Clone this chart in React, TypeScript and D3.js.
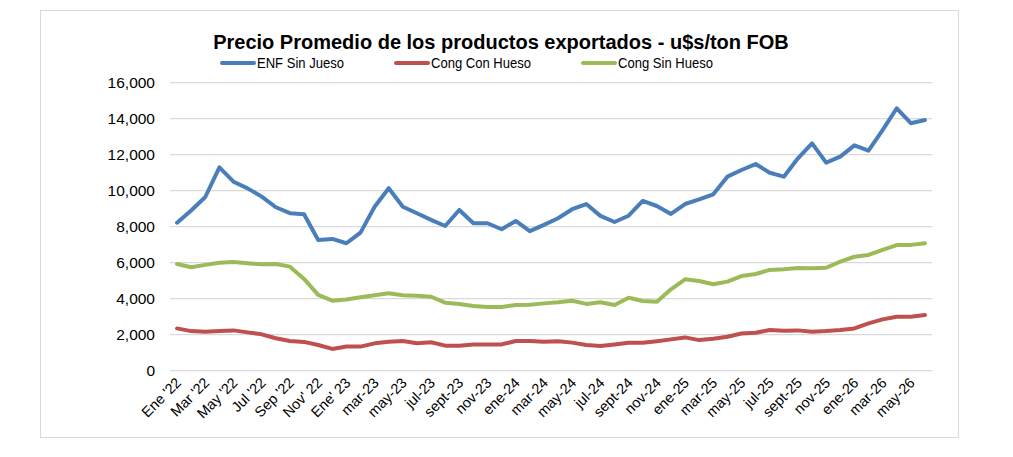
import React from 'react';
import * as d3 from 'd3';

const months = [
  "Ene '22", "Feb '22", "Mar '22", "Abr '22", "May '22", "Jun '22", "Jul '22", "Ago '22", "Sep '22", "Oct '22", "Nov' 22", "Dic' 22",
  "Ene' 23", "feb-23", "mar-23", "abr-23", "may-23", "jun-23", "jul-23", "ago-23", "sept-23", "oct-23", "nov-23", "dic-23",
  "ene-24", "feb-24", "mar-24", "abr-24", "may-24", "jun-24", "jul-24", "ago-24", "sept-24", "oct-24", "nov-24", "dic-24",
  "ene-25", "feb-25", "mar-25", "abr-25", "may-25", "jun-25", "jul-25", "ago-25", "sept-25", "oct-25", "nov-25", "dic-25",
  "ene-26", "feb-26", "mar-26", "abr-26", "may-26", "jun-26",
];

const enfSinHueso = [
  8220, 8900, 9650, 11300, 10500, 10130, 9670, 9080, 8750, 8690, 7260, 7320,
  7080, 7670, 9110, 10140, 9110, 8750, 8380, 8040, 8930, 8190, 8190, 7860,
  8320, 7750, 8100, 8470, 8970, 9260, 8600, 8260, 8610, 9430, 9150, 8710,
  9260, 9520, 9800, 10780, 11150, 11480, 11000, 10780, 11800, 12630, 11560, 11890,
  12520, 12220, 13370, 14580, 13750, 13930,
];

const congConHueso = [
  2350, 2200, 2170, 2200, 2240, 2130, 2020, 1800, 1650, 1600, 1430, 1210,
  1340, 1340, 1520, 1610, 1650, 1520, 1580, 1390, 1390, 1460, 1460, 1460,
  1650, 1650, 1610, 1640, 1560, 1430, 1370, 1460, 1550, 1550, 1640, 1740,
  1850, 1700, 1780, 1890, 2070, 2110, 2260, 2220, 2240, 2170, 2200, 2260,
  2350, 2630, 2850, 3000, 3000, 3090,
];

const congSinHueso = [
  5930, 5750, 5880, 6000, 6040, 5970, 5910, 5930, 5780, 5100, 4210, 3890,
  3960, 4080, 4190, 4300, 4190, 4170, 4110, 3780, 3710, 3600, 3540, 3540,
  3650, 3670, 3740, 3800, 3890, 3710, 3800, 3650, 4050, 3870, 3830, 4520,
  5080, 4980, 4800, 4950, 5260, 5370, 5600, 5630, 5700, 5690, 5720, 6060,
  6330, 6430, 6710, 6980, 6990, 7080,
];

const yTicks = [0, 2000, 4000, 6000, 8000, 10000, 12000, 14000, 16000];

const series = [
  { name: 'ENF Sin Jueso', values: enfSinHueso, color: '#4a7ebb' },
  { name: 'Cong Con Hueso', values: congConHueso, color: '#c0504d' },
  { name: 'Cong Sin Hueso', values: congSinHueso, color: '#9bbb59' },
];

const W = 1013;
const H = 457;
const left = 170;
const right = 932;
const top = 82.7;
const bottom = 370.7;

export default function App() {
  const x = d3.scalePoint<string>().domain(months).range([left, right]).padding(0.5);
  const y = d3.scaleLinear().domain([0, 16000]).range([bottom, top]);
  const line = d3
    .line<number>()
    .x((_, i) => x(months[i]) as number)
    .y((d) => y(d));
  const fmt = d3.format(',');
  const legendX = [222, 396, 583];

  return (
    <svg
      width={W}
      height={H}
      style={{ position: 'absolute', left: 0, top: 0, background: '#fff' }}
      fontFamily="'Liberation Sans', Arial, sans-serif"
    >
      <rect x={40.5} y={10.5} width={918} height={427} fill="#fff" stroke="#d9d9d9" />

      <text x={501} y={49} textAnchor="middle" fontSize={20} fontWeight="bold" fill="#000">
        Precio Promedio de los productos exportados - u$s/ton FOB
      </text>

      {series.map((s, i) => (
        <g key={s.name} transform={`translate(${legendX[i]},63)`}>
          <line x1={0} x2={32} y1={0} y2={0} stroke={s.color} strokeWidth={4} strokeLinecap="round" />
          <g transform="translate(35,5) scale(0.9,1)">
            <text x={0} y={0} fontSize={14.5} fill="#000">
              {s.name}
            </text>
          </g>
        </g>
      ))}

      {yTicks.map((t) => (
        <g key={t}>
          <line x1={left} x2={right} y1={y(t)} y2={y(t)} stroke="#d9d9d9" strokeWidth={1.2} />
          <text x={155} y={y(t) + 5.5} textAnchor="end" fontSize={15.5} fill="#000">
            {fmt(t)}
          </text>
        </g>
      ))}

      {months.map((m, i) =>
        i % 2 === 0 ? (
          <text
            key={m}
            transform={`translate(${(x(m) as number) + 5},${bottom + 13}) rotate(-45)`}
            textAnchor="end"
            fontSize={14.5}
            fill="#000"
          >
            {m}
          </text>
        ) : null
      )}

      {series.map((s) => (
        <path
          key={s.name}
          d={line(s.values) as string}
          fill="none"
          stroke={s.color}
          strokeWidth={4}
          strokeLinejoin="round"
          strokeLinecap="round"
        />
      ))}
    </svg>
  );
}
